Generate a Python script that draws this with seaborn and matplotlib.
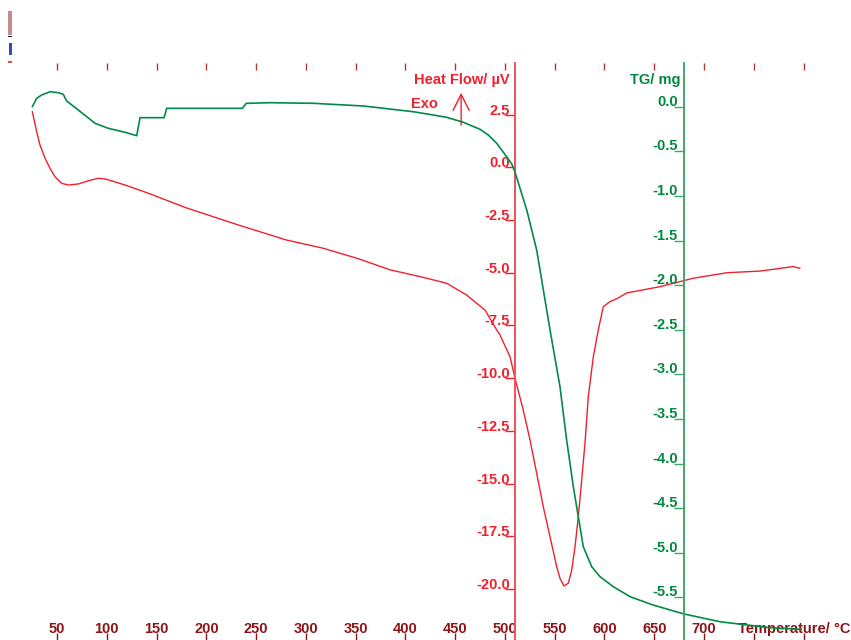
import numpy as np
import matplotlib
matplotlib.use('Agg')
import matplotlib.pyplot as plt
import matplotlib.transforms as mtransforms
from matplotlib.patches import Rectangle
import seaborn as sns

# DSC / TG curves
temp_hf = [25.2, 29.6, 32.9, 38.0, 43.0, 48.0, 54.7, 61.3, 71.4, 81.4, 91.5, 99.9,
           118.3, 141.7, 180.3, 233.8, 280.7, 317.5, 351.1, 384.5, 418.0, 441.5,
           461.6, 480.0, 491.7, 495.0, 505.1, 510.1, 518.4, 525.2, 531.9, 538.5,
           545.3, 552.0, 555.3, 559.3, 563.7, 567.1, 570.4, 573.7, 577.1, 580.4,
           583.7, 588.8, 593.8, 598.8, 605.5, 613.2, 622.3, 655.8, 689.2, 722.8,
           756.2, 789.7, 796.4]
heat_flow = [2.64, 1.69, 1.06, 0.43, -0.05, -0.45, -0.76, -0.84, -0.79, -0.64, -0.52, -0.57,
             -0.84, -1.23, -1.93, -2.76, -3.45, -3.84, -4.31, -4.86, -5.22, -5.50,
             -6.06, -6.77, -7.71, -7.95, -8.98, -10.00, -11.51, -12.93, -14.51, -16.09,
             -17.52, -18.94, -19.49, -19.85, -19.72, -19.09, -17.99, -16.57, -14.83, -13.09,
             -10.88, -8.98, -7.71, -6.61, -6.37, -6.21, -5.96, -5.66, -5.26, -5.00,
             -4.92, -4.71, -4.79]

temp_tg = [25.2, 29.6, 34.6, 43.0, 51.3, 56.3, 59.7, 71.4, 88.2, 101.5, 118.3, 130.1,
           133.4, 148.5, 157.6, 160.2, 224.5, 236.2, 240.2, 264.0, 307.5, 357.7,
           407.9, 441.5, 458.2, 474.9, 483.3, 491.7, 501.7, 506.8, 510.1, 521.9, 531.9,
           545.3, 555.3, 562.0, 568.7, 573.7, 578.7, 587.2, 595.5, 608.9, 625.7,
           648.7, 679.9, 716.1, 766.3, 798.0]
mass_tg = [0.000, 0.094, 0.131, 0.168, 0.157, 0.139, 0.064, -0.037, -0.186, -0.242, -0.287, -0.325,
           -0.123, -0.123, -0.123, -0.018, -0.018, -0.018, 0.038, 0.045, 0.038, 0.008,
           -0.056, -0.119, -0.175, -0.253, -0.317, -0.410, -0.561, -0.642, -0.732, -1.158, -1.607,
           -2.503, -3.139, -3.737, -4.260, -4.596, -4.933, -5.157, -5.269, -5.381, -5.493,
           -5.586, -5.687, -5.774, -5.841, -5.859]

temp_ticks = list(range(50, 801, 50))
temp_labels = [str(t) if t <= 700 else '' for t in temp_ticks]
hf_ticks = [-20.0, -17.5, -15.0, -12.5, -10.0, -7.5, -5.0, -2.5, 0.0, 2.5]
tg_ticks = [-5.5, -5.0, -4.5, -4.0, -3.5, -3.0, -2.5, -2.0, -1.5, -1.0, -0.5, 0.0]

RED = '#F0202C'
RED_AXIS = '#F0505A'
GREEN = '#008C46'
GREEN_TXT = '#00893E'
GREEN_AXIS = '#40A868'
DARK_RED = '#8E1418'

sns.set_style('white')
plt.rcParams['font.family'] = ['Liberation Sans', 'DejaVu Sans']
plt.rcParams['font.weight'] = 'bold'
FS = 10.5

W, H = 851, 640
fig = plt.figure(figsize=(W / 100, H / 100), dpi=100)
ax = fig.add_axes([0, 0, 1, 1])
ax.set_facecolor('white')

# pixel -> data calibration
x_left = 50 - 57 * 1.0046
x_right = 50 + (W - 57) * 1.0046
hf_zero_px, hf_scale = 167.3, 21.09
tg_zero_px, tg_scale = 106.7, 89.2
axis_top_px = 63

ax.set_xlim(x_left, x_right)
ax.set_ylim((hf_zero_px - H) / hf_scale, hf_zero_px / hf_scale)

ax2 = ax.twinx()
ax2.set_position([0, 0, 1, 1])
ax2.set_ylim((tg_zero_px - H) / tg_scale, tg_zero_px / tg_scale)

sns.lineplot(x=temp_tg, y=mass_tg, ax=ax2, color=GREEN, lw=1.2, estimator=None, sort=False)
sns.lineplot(x=temp_hf, y=heat_flow, ax=ax, color=RED, lw=1.0, estimator=None, sort=False)

for a in (ax, ax2):
    for s in a.spines.values():
        s.set_visible(False)
    a.grid(False)

# heat flow axis (red) at 510 °C
ax.spines['left'].set_visible(True)
ax.spines['left'].set_position(('data', 510))
ax.spines['left'].set_color(RED_AXIS)
ax.spines['left'].set_linewidth(1.4)
ax.spines['left'].set_bounds(ax.get_ylim()[0], (hf_zero_px - axis_top_px) / hf_scale)
ax.set_yticks(hf_ticks)
ax.tick_params(axis='y', direction='out', length=7, width=1, color=RED,
               left=True, labelleft=False)
lab_tr = mtransforms.offset_copy(ax.transData, fig=fig, x=-5, y=0, units='dots')
for v in hf_ticks:
    ax.text(510, v, f'{v:.1f}', transform=lab_tr, ha='right', va='baseline',
            color=RED, fontsize=FS, fontweight='bold')

# TG axis (green) at 680 °C
ax2.spines['right'].set_visible(True)
ax2.spines['right'].set_position(('data', 680))
ax2.spines['right'].set_color(GREEN_AXIS)
ax2.spines['right'].set_linewidth(1.4)
ax2.spines['right'].set_bounds(ax2.get_ylim()[0], (tg_zero_px - axis_top_px) / tg_scale)
ax2.set_yticks(tg_ticks)
ax2.tick_params(axis='y', direction='in', length=7, width=1, color=GREEN_AXIS,
                right=True, labelright=False)
lab_tr2 = mtransforms.offset_copy(ax2.transData, fig=fig, x=-6, y=1, units='dots')
for v in tg_ticks:
    ax2.text(680, v, f'{v:.1f}', transform=lab_tr2, ha='right', va='baseline',
             color=GREEN_TXT, fontsize=FS, fontweight='bold')

# temperature axis
ax.set_xticks(temp_ticks)
ax.set_xticklabels(temp_labels)
ax.tick_params(axis='x', direction='in', length=5, width=1, color=DARK_RED,
               bottom=True, labelbottom=True, pad=-12.7, labelsize=FS,
               labelcolor=DARK_RED)
for t in ax.get_xticklabels():
    t.set_fontweight('bold')
top = ax.secondary_xaxis(1 - axis_top_px / H)
top.set_xticks(temp_ticks)
top.tick_params(axis='x', direction='in', length=5, width=1, color='#A83A3A',
                labeltop=False)
for s in top.spines.values():
    s.set_visible(False)

ax.text(738 / W, 7 / H, 'Temperature/ °C', transform=ax.transAxes, ha='left',
        va='baseline', color=DARK_RED, fontsize=FS, fontweight='bold')

# axis titles
head_y = 1 - 84 / H
tr_red = mtransforms.offset_copy(ax.get_xaxis_transform(), fig=fig, x=-5, y=0, units='dots')
ax.text(510, head_y, 'Heat Flow/ µV', transform=tr_red, ha='right', va='baseline',
        color=RED, fontsize=FS, fontweight='bold')
tr_green = mtransforms.offset_copy(ax.get_xaxis_transform(), fig=fig, x=-4, y=0, units='dots')
ax.text(680, head_y, 'TG/ mg', transform=tr_green, ha='right', va='baseline',
        color=GREEN_TXT, fontsize=FS, fontweight='bold')
ax.text(411 / W, 1 - 108 / H, 'Exo', transform=ax.transAxes, ha='left', va='baseline',
        color=RED, fontsize=FS, fontweight='bold')
ax.annotate('', xy=(456, (hf_zero_px - 92.7) / hf_scale), xytext=(456, (hf_zero_px - 125) / hf_scale),
            arrowprops=dict(arrowstyle='->,head_length=0.58,head_width=0.29', color=RED,
                            lw=1, shrinkA=0, shrinkB=0, mutation_scale=20))

# leftover legend swatches in the top-left corner
fig.add_artist(Rectangle((8 / W, 1 - 35 / H), 4 / W, 24 / H, transform=fig.transFigure,
                         color='#C88A8E', lw=0))
fig.add_artist(Rectangle((8 / W, 1 - 37 / H), 4 / W, 1.5 / H, transform=fig.transFigure,
                         color='#202020', lw=0))
fig.add_artist(Rectangle((9 / W, 1 - 55 / H), 3 / W, 12 / H, transform=fig.transFigure,
                         color='#3A48B0', lw=0))
fig.add_artist(Rectangle((8 / W, 1 - 63 / H), 4 / W, 2 / H, transform=fig.transFigure,
                         color='#D05050', lw=0))

fig.savefig('out.png', dpi=100)
plt.close(fig)
